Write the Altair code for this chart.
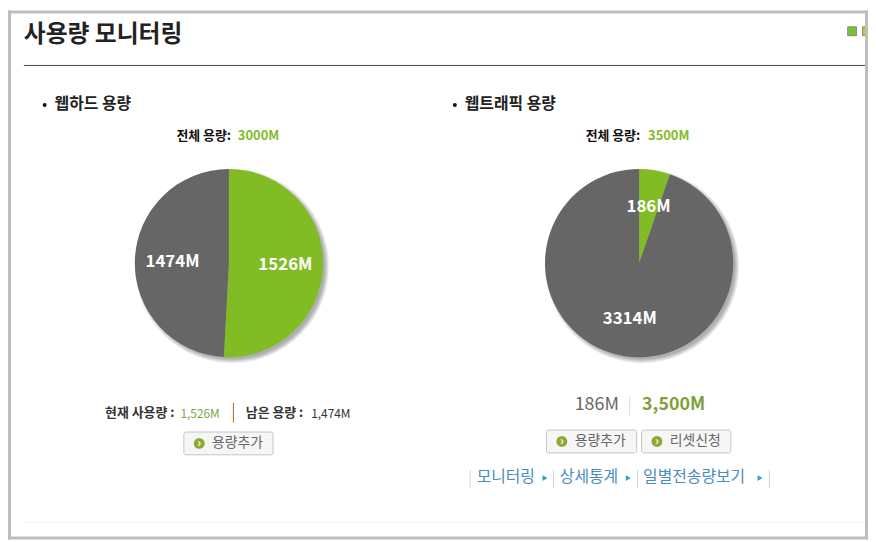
import math
import altair as alt
import pandas as pd

# ---- data ----
disk_names = ["used", "free"]
disk_values = [1526, 1474]
disk_labels = ["1526M", "1474M"]
traffic_names = ["used", "free"]
traffic_values = [186, 3314]
traffic_labels = ["186M", "3314M"]

GREEN = "#81bc25"
GRAY = "#666666"
FONT = "Noto Sans CJK KR"
OX, OY = 8, 8  # page margin: reference pixels -> chart pixels


def px(v):
    return alt.value(v - OX)


def py(v):
    return alt.value(v - OY)


def label(text, x, y, size=13, weight="normal", color="#222222", align="left"):
    return alt.Chart().mark_text(
        font=FONT, fontSize=size, fontWeight=weight, color=color, align=align, baseline="middle"
    ).encode(x=px(x), y=py(y), text=alt.value(text))


def rule(x1, y1, x2, y2, color, w=1):
    return alt.Chart().mark_rule(color=color, strokeWidth=w).encode(
        x=px(x1), x2=px(x2), y=py(y1), y2=py(y2)
    )


def box(x1, y1, x2, y2, fill, stroke=None, radius=0):
    kw = dict(fill=fill, cornerRadius=radius)
    if stroke:
        kw.update(stroke=stroke, strokeWidth=1)
    return alt.Chart().mark_rect(**kw).encode(x=px(x1), x2=px(x2), y=py(y1), y2=py(y2))


def dot(x, y, size, color, shape="circle"):
    return alt.Chart().mark_point(filled=True, shape=shape, size=size, color=color, opacity=1).encode(
        x=px(x), y=py(y)
    )


def pie(names, values, labels, cx, cy, r):
    df = pd.DataFrame({"name": names, "value": values, "label": labels, "idx": range(len(names))})
    theta = alt.Theta("value:Q", stack="normalize", scale=alt.Scale(domain=[0, 1], range=[0, 2 * math.pi]))
    shadows = [
        alt.Chart().mark_arc(
            theta=0, theta2=2 * math.pi, outerRadius=r + d, innerRadius=0, fill="#000000", opacity=0.07
        ).encode(x=px(cx + 3), y=py(cy + 3))
        for d in (3, 2, 1, 0, -1)
    ]
    arc = alt.Chart(df).mark_arc(outerRadius=r, innerRadius=0).encode(
        theta=theta,
        color=alt.Color("name:N", scale=alt.Scale(domain=["used", "free"], range=[GREEN, GRAY]), legend=None),
        order=alt.Order("idx:Q"),
        x=px(cx),
        y=py(cy),
    )
    txt = alt.Chart(df).mark_text(
        radius=0.6 * r, font=FONT, fontSize=17, fontWeight="bold", color="white", baseline="middle"
    ).encode(
        theta=theta,
        detail="name:N",
        order=alt.Order("idx:Q"),
        text="label:N",
        x=px(cx),
        y=py(cy),
    )
    return shadows + [arc, txt]


def button(x1, y1, x2, y2, text):
    cy = (y1 + y2) / 2
    return [
        box(x1 + 0.5, y1 + 0.5, x2 - 0.5, y2 - 0.5, "#f6f6f6", "#c4c4c4", 2),
        dot(x1 + 16, cy, 120, "#8ea92f"),
        label("›", x1 + 16, cy - 0.5, 12, "bold", "#ffffff", "center"),
        label(text, x1 + 29, cy, 14, "normal", "#666666"),
    ]


LINK = "#4a8cc0"
ARROW = "#2f9fc4"
SEP = "#c5d6e6"

layers = []
# frame
layers += [
    box(8, 8, 11, 542, "#bdbdbd"),
    box(8, 8, 876, 11, "#bdbdbd"),
]
# header
layers += [
    label("사용량 모니터링", 24, 33, 24, "bold", "#222222"),
    rule(24, 63.5, 873, 63.5, "#444444"),
    box(855.5, 24.5, 864.5, 33.5, "#7cc034", "#888888"),
    box(870.5, 24.5, 876, 33.5, "#c9c62a", "#888888"),
    rule(24, 524.5, 873, 524.5, "#eeeeee"),
]
# left panel
layers += [
    dot(45, 103.5, 16, "#111111"),
    label("웹하드 용량", 55, 102, 16, "bold", "#222222"),
    label("전체 용량:", 178, 135, 13, "bold", "#111111"),
    label("3000M", 240, 135, 13, "bold", GREEN),
]
layers += pie(disk_names, disk_values, disk_labels, 231, 263, 95)
layers += [
    label("현재 사용량 :", 106, 414, 13, "bold", "#333333"),
    label("1,526M", 182, 415, 12, "normal", "#79a83e"),
    rule(235.5, 404, 235.5, 424, "#b5651d"),
    label("남은 용량 :", 248, 414, 13, "bold", "#333333"),
    label("1,474M", 314, 415, 12, "normal", "#333333"),
]
layers += button(185, 433, 276, 457, "용량추가")
# right panel
layers += [
    dot(459, 103.5, 16, "#111111"),
    label("웹트래픽 용량", 469, 102, 16, "bold", "#222222"),
    label("전체 용량:", 591, 135, 13, "bold", "#111111"),
    label("3500M", 654, 135, 13, "bold", GREEN),
]
layers += pie(traffic_names, traffic_values, traffic_labels, 645, 263, 95)
layers += [
    label("186M", 580, 406, 18, "normal", "#666666"),
    rule(635.5, 397, 635.5, 417, "#dddddd"),
    label("3,500M", 648, 406, 18, "bold", "#7f9f3a"),
]
layers += button(551, 431, 643, 455, "용량추가")
layers += button(647, 431, 738, 455, "리셋신청")
# links
for x in (474, 558, 643, 776):
    layers.append(rule(x + 0.5, 472, x + 0.5, 490, SEP))
for x, t in ((481, "모니터링"), (565, "상세통계"), (649, "일별전송량보기")):
    layers.append(label(t, x, 479, 16, "normal", LINK))
for x in (550, 634, 767):
    layers.append(dot(x, 480, 32, ARROW, "triangle-right"))
# right / bottom frame, drawn last
layers += [
    box(873, 8, 876, 542, "#bdbdbd"),
    box(8, 539, 876, 542, "#bdbdbd"),
]

chart = (
    alt.layer(*layers)
    .properties(width=868, height=534, padding=0, autosize=alt.AutoSizeParams(type="none"), background="white")
    .configure_view(stroke=None)
)
chart.save("out.html", embed_options={"renderer": "svg", "actions": False})
